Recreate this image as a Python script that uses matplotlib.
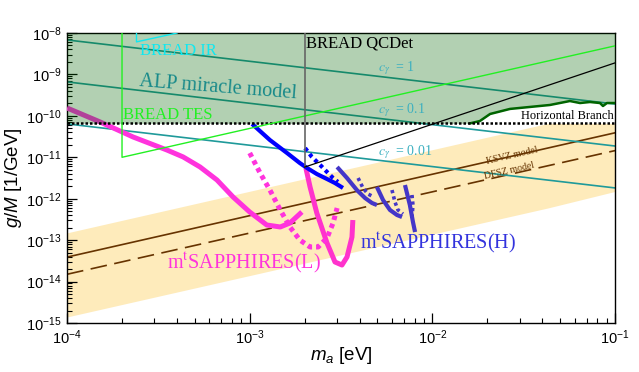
import numpy as np
import matplotlib
matplotlib.use('Agg')
import matplotlib.pyplot as plt
from matplotlib.ticker import LogLocator, NullFormatter

plt.rcParams['font.family'] = ['Liberation Sans', 'DejaVu Sans']
plt.rcParams['mathtext.fontset'] = 'custom'
plt.rcParams['mathtext.rm'] = 'Liberation Sans'
plt.rcParams['mathtext.it'] = 'Liberation Sans:italic'
plt.rcParams['mathtext.bf'] = 'Liberation Sans:bold'

# ---- data (m_a in eV, g/M in 1/GeV) ----
g_hb = 6.6e-11
m_excl = [1e-4, 1.61e-2, 1.82e-2, 2.07e-2, 2.66e-2, 3.42e-2, 4.40e-2, 5.66e-2,
          6.43e-2, 7.29e-2, 8.27e-2, 8.59e-2, 9.03e-2, 1e-1]
g_excl = [6.6e-11, 6.6e-11, 7.5e-11, 1.11e-10, 1.47e-10, 1.64e-10, 1.83e-10, 2.28e-10,
          2.04e-10, 2.16e-10, 2.04e-10, 1.73e-10, 2.04e-10, 2.04e-10]

m_line = [1e-4, 1e-1]
g_mir_1 = [6.8e-9, 1.93e-10]
g_mir_01 = [6.6e-10, 1.87e-11]
g_mir_001 = [6.4e-11, 1.82e-12]
g_ksvz = [3.9e-14, 3.9e-11]
g_dfsz = [1.5e-14, 1.45e-11]

m_band = [1e-4, 4.3e-2, 1e-1]
band_lo = [1.4e-15, 6.0e-13, 1.5e-12]
band_hi = [1.5e-13, 6.6e-11, 6.6e-11]

m_ir = [2.4e-4, 2.4e-4, 4.0e-4]
g_ir = [1e-8, 6.1e-9, 1e-8]
m_tes = [2.0e-4, 2.0e-4, 1e-1]
g_tes = [1e-8, 1.0e-11, 4.9e-9]
m_qcdet = [2.0e-3, 2.0e-3, 1e-1]
g_qcdet = [1e-8, 5.8e-12, 1.9e-9]

# mtSAPPHIRES (L)
m_L1 = [1.00e-4, 1.52e-4, 2.30e-4, 3.52e-4, 4.32e-4, 5.35e-4, 6.62e-4, 8.11e-4,
        1.00e-3, 1.24e-3, 1.47e-3, 1.66e-3, 1.93e-3]
g_L1 = [1.55e-10, 7.1e-11, 3.09e-11, 1.50e-11, 1.02e-11, 5.83e-12, 2.83e-12, 1.10e-12,
        4.78e-13, 2.32e-13, 2.08e-13, 2.59e-13, 4.78e-13]
m_L2 = [2.03e-3, 2.14e-3, 2.33e-3, 2.65e-3, 2.93e-3, 3.20e-3, 3.41e-3, 3.63e-3, 3.67e-3]
g_L2 = [5.52e-12, 1.92e-12, 4.52e-13, 8.53e-14, 2.97e-14, 2.51e-14, 3.92e-14, 1.19e-13, 3.06e-13]
m_Ld = [1.00e-3, 1.14e-3, 1.29e-3, 1.47e-3, 1.66e-3, 1.88e-3, 2.14e-3, 2.37e-3, 2.65e-3,
        2.86e-3, 3.01e-3]
g_Ld = [1.27e-11, 4.18e-12, 1.62e-12, 5.35e-13, 2.08e-13, 1.01e-13, 6.84e-14, 6.84e-14,
        1.13e-13, 2.59e-13, 5.97e-13]

# mtSAPPHIRES (H)
m_H1 = [1.03e-3, 1.29e-3, 1.60e-3, 1.88e-3, 2.06e-3, 2.33e-3, 2.65e-3, 2.93e-3, 3.24e-3]
g_H1 = [6.4e-11, 2.61e-11, 1.27e-11, 7.28e-12, 5.52e-12, 3.95e-12, 2.99e-12, 2.39e-12, 1.82e-12]
m_Hd = [2.01e-3, 2.19e-3, 2.43e-3, 2.65e-3, 2.86e-3, 3.04e-3]
g_Hd = [1.67e-11, 1.02e-11, 6.52e-12, 4.42e-12, 3.16e-12, 2.54e-12]
m_HA = [3.01e-3, 3.41e-3, 3.86e-3, 4.28e-3, 4.67e-3, 4.97e-3]
g_HA = [5.83e-12, 3.16e-12, 1.62e-12, 1.04e-12, 7.89e-13, 7.05e-13]
m_HB = [4.97e-3, 5.37e-3, 5.86e-3, 6.40e-3, 6.82e-3]
g_HB = [1.92e-12, 9.31e-13, 5.35e-13, 4.05e-13, 3.62e-13]
m_HC = [7.08e-3, 7.53e-3, 7.83e-3, 8.04e-3]
g_HC = [2.14e-12, 7.05e-13, 2.74e-13, 1.57e-13]
m_Hd1 = [3.92e-3, 4.17e-3, 4.44e-3, 4.79e-3]
g_Hd1 = [3.16e-12, 1.82e-12, 1.30e-12, 1.10e-12]
m_Hd2 = [6.01e-3, 6.24e-3, 6.48e-3, 6.90e-3]
g_Hd2 = [1.62e-12, 8.34e-13, 5.35e-13, 4.28e-13]
m_Hd3 = [7.73e-3, 7.83e-3, 7.73e-3]
g_Hd3 = [1.23e-12, 7.05e-13, 3.43e-13]

fig = plt.figure(figsize=(6.39, 3.72), dpi=100)
ax = fig.add_axes([0.1049, 0.1317, 0.8576, 0.7796])
ax.set_xscale('log')
ax.set_yscale('log')

# QCD axion band and models
ax.fill_between(m_band, band_lo, band_hi, color='#feebbb', lw=0, zorder=1)
ax.plot(m_line, g_ksvz, color='#663300', lw=1.2, zorder=2)
ax.plot(m_line, g_dfsz, color='#663300', lw=1.2, dashes=(10, 4.5), zorder=2)

# ALP miracle lines
teal = '#1f9a9a'
for g in (g_mir_1, g_mir_01, g_mir_001):
    ax.plot(m_line, g, color=teal, lw=1.2, zorder=2)

# sensitivity curves
pink = '#ff33dd'
ax.plot(m_L1, g_L1, color=pink, lw=3.6, solid_capstyle='butt', zorder=3)
ax.plot(m_L2, g_L2, color='#ff33cc', lw=3.6, solid_capstyle='butt', zorder=3)
ax.plot(m_Ld, g_Ld, color=pink, lw=3.6, linestyle=(0, (0.9, 0.8)), zorder=3)

indigo = '#4436c8'
ax.plot(m_H1, g_H1, color='#0000ff', lw=3.0, solid_capstyle='butt', zorder=3)
ax.plot(m_Hd, g_Hd, color='#0000ff', lw=3.0, linestyle=(0, (0.9, 0.9)), zorder=3)
for mm, gg in ((m_HA, g_HA), (m_HB, g_HB), (m_HC, g_HC)):
    ax.plot(mm, gg, color=indigo, lw=3.0, solid_capstyle='butt', zorder=3)
for mm, gg in ((m_Hd1, g_Hd1), (m_Hd2, g_Hd2), (m_Hd3, g_Hd3)):
    ax.plot(mm, gg, color=indigo, lw=2.6, linestyle=(0, (0.9, 0.9)), zorder=3)

# excluded region (HB + telescopes)
ax.fill_between(m_excl, g_excl, 1e-8, color=(0, 0.392, 0), alpha=0.3, lw=0, zorder=4)
ax.plot(m_excl[1:], g_excl[1:], color='#006400', lw=1.8, zorder=5)
ax.plot(m_line, [g_hb, g_hb], color='black', lw=1.8, dashes=(1.0, 0.8), zorder=5)

# BREAD
ax.plot(m_ir, g_ir, color='#10e8f0', lw=1.0, zorder=5)
ax.plot(m_tes, g_tes, color='#22f022', lw=1.0, zorder=5)
ax.plot(m_qcdet[:2], g_qcdet[:2], color='#666666', lw=1.2, zorder=5)
ax.plot(m_qcdet[1:], g_qcdet[1:], color='black', lw=0.9, zorder=5)

serif = ['Liberation Serif', 'DejaVu Serif']
tr = ax.transAxes
ax.text(0.133, 0.938, 'BREAD IR', color='#10e8f0', fontsize=12, family=serif,
        va='center', transform=tr, zorder=6)
ax.text(0.2755, 0.810, 'ALP miracle model', color='#188a8a', fontsize=14.5, family=serif,
        ha='center', va='center', rotation=-4.5, transform=tr, zorder=6)
ax.text(0.102, 0.717, 'BREAD TES', color='#22f022', fontsize=12, family=serif,
        va='center', transform=tr, zorder=6)
ax.text(0.436, 0.965, 'BREAD QCDet', color='black', fontsize=12, family=serif,
        va='center', transform=tr, zorder=6)
for fy, lab in ((0.879, '1'), (0.734, '0.1'), (0.590, '0.01')):
    ax.text(0.5675, fy, r'$c_\gamma$  = ' + lab, color='#3cb0c0', fontsize=10,
            family=serif, math_fontfamily='stix', va='center', transform=tr, zorder=6)
ax.text(0.998, 0.714, 'Horizontal Branch', color='black', fontsize=9, family=serif,
        ha='right', va='center', transform=tr, zorder=6)
ax.text(0.812, 0.576, 'KSVZ model', color='#663300', fontsize=7, family=serif,
        ha='center', va='center', rotation=13, transform=tr, zorder=6)
ax.text(0.808, 0.526, 'DFSZ model', color='#663300', fontsize=7, family=serif,
        ha='center', va='center', rotation=13, transform=tr, zorder=6)
ax.text(0.1825, 0.207, r'm$^{\rm t}$SAPPHIRES(L)', color=pink, fontsize=14.5,
        family=serif, math_fontfamily='stix', va='center', transform=tr, zorder=6)
ax.text(0.535, 0.276, r'm$^{\rm t}$SAPPHIRES(H)', color='#3333dd', fontsize=14.5,
        family=serif, math_fontfamily='stix', va='center', transform=tr, zorder=6)

ax.set_xlim(1e-4, 1e-1)
ax.set_ylim(1e-15, 1e-8)
ax.xaxis.set_major_locator(LogLocator(base=10, numticks=20))
ax.yaxis.set_major_locator(LogLocator(base=10, numticks=20))
ax.xaxis.set_minor_locator(LogLocator(base=10, subs=np.arange(2, 10), numticks=100))
ax.yaxis.set_minor_locator(LogLocator(base=10, subs=np.arange(2, 10), numticks=100))
ax.xaxis.set_minor_formatter(NullFormatter())
ax.yaxis.set_minor_formatter(NullFormatter())
ax.tick_params(which='both', direction='in', top=False, right=False, labelsize=10.5)
ax.tick_params(which='major', length=7, width=0.9)
ax.tick_params(which='minor', length=3.5, width=0.8)
ax.tick_params(axis='x', pad=4)
ax.tick_params(axis='y', pad=4)
for s in ax.spines.values():
    s.set_linewidth(1.0)
ax.xaxis.offsetText.set_visible(False)
ax.yaxis.offsetText.set_visible(False)

ax.set_xlabel(r'$m_a$ [eV]', fontsize=13.5)
ax.set_ylabel(r'$g/M$ [1/GeV]', fontsize=13.5)
ax.xaxis.set_label_coords(0.5, -0.075)
ax.yaxis.set_label_coords(-0.078, 0.5)

fig.savefig('out.png', dpi=100)
